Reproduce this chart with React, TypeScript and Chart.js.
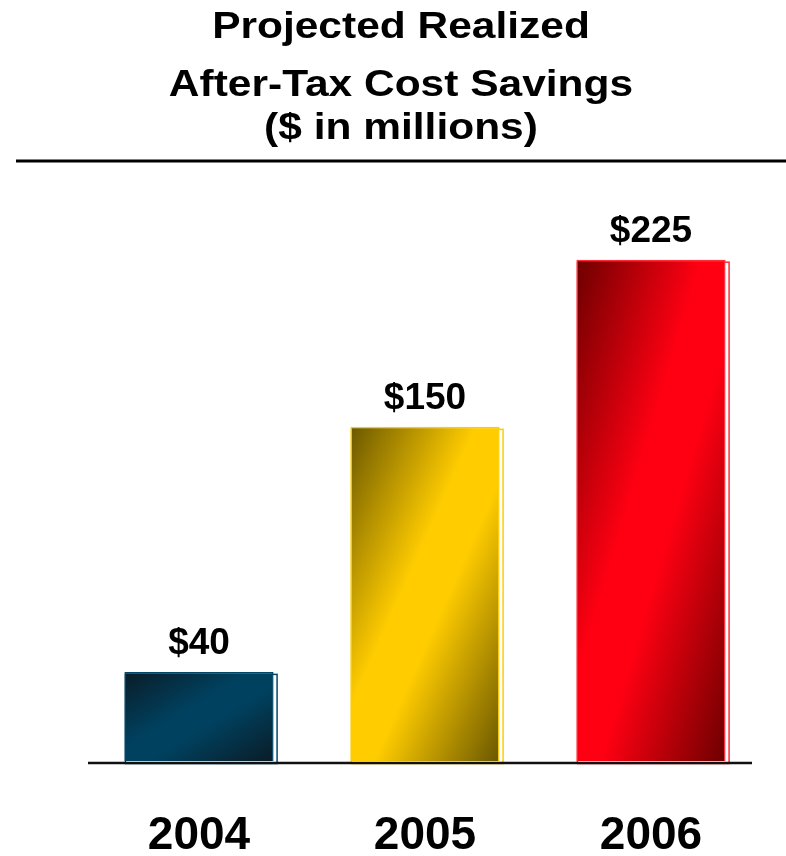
import React, { useEffect, useRef } from 'react';
import { Chart, registerables } from 'chart.js';

Chart.register(...registerables);

// ---- data ----
const categories = ['2004', '2005', '2006'];
const savings = [40, 150, 225];
const valueLabels = ['$40', '$150', '$225'];
const titleLines = ['Projected Realized', 'After-Tax Cost Savings', '($ in millions)'];

// ---- styles ----
const DARK = ['#0a1c27', '#6a5700', '#6c0000'];
const BRIGHT = ['#00415f', '#ffcc00', '#ff0012'];
const EDGE = ['#00476a', '#ffcc00', '#ff2a36'];
const FONT = '"Liberation Sans", Arial, Helvetica, sans-serif';
const BAR_PCT = 0.66;
const TITLE_TOPS = [5.5, 64, 107];

function barGradient(ctx: CanvasRenderingContext2D, i: number, left: number, top: number, right: number, bottom: number) {
  const w = Math.max(1, right - left);
  const h = Math.max(1, bottom - top);
  const k = (2 * w * h) / (w * w + h * h);
  const g = ctx.createLinearGradient(left, top, left + h * k, top + w * k);
  g.addColorStop(0, DARK[i]);
  g.addColorStop(0.42, BRIGHT[i]);
  g.addColorStop(0.58, BRIGHT[i]);
  g.addColorStop(1, DARK[i]);
  return g;
}

const gradFill = (c: any) => {
  const chart = c.chart;
  const i = c.dataIndex;
  const xs = chart.scales?.x;
  const ys = chart.scales?.y;
  if (!chart.chartArea || !xs || !ys || typeof i !== 'number') return BRIGHT[0];
  const cx = xs.getPixelForValue(i);
  const half = (xs.width / categories.length) * BAR_PCT / 2;
  const top = ys.getPixelForValue(savings[i]);
  const bottom = ys.getPixelForValue(0);
  return barGradient(chart.ctx, i, cx - half, top, cx + half, bottom);
};

const decorPlugin = {
  id: 'decor',
  beforeDatasetsDraw(chart: any) {
    const ctx = chart.ctx;
    const meta = chart.getDatasetMeta(0);
    meta.data.forEach((el: any, i: number) => {
      const { x, y, base, width } = el.getProps(['x', 'y', 'base', 'width'], true);
      ctx.save();
      ctx.strokeStyle = EDGE[i];
      ctx.lineWidth = 1.5;
      ctx.strokeRect(x - width / 2 + 1, y + 2.5, width + 2.5, base - y);
      ctx.restore();
    });
  },
  afterDatasetsDraw(chart: any) {
    const ctx = chart.ctx;
    const area = chart.chartArea;
    // baseline
    ctx.save();
    ctx.strokeStyle = '#111';
    ctx.lineWidth = 2.5;
    ctx.beginPath();
    ctx.moveTo(area.left + 2, area.bottom + 2);
    ctx.lineTo(area.right - 12, area.bottom + 2);
    ctx.stroke();
    ctx.restore();
    // value labels
    const meta = chart.getDatasetMeta(0);
    meta.data.forEach((el: any, i: number) => {
      const { x, y } = el.getProps(['x', 'y'], true);
      ctx.save();
      ctx.fillStyle = '#000';
      ctx.font = `bold 37px ${FONT}`;
      ctx.textAlign = 'center';
      ctx.textBaseline = 'alphabetic';
      ctx.fillText(valueLabels[i], x, y - 18);
      ctx.restore();
    });
    // separator rule under the title
    ctx.save();
    ctx.strokeStyle = '#000';
    ctx.lineWidth = 3;
    ctx.beginPath();
    ctx.moveTo(16, 161);
    ctx.lineTo(chart.width, 161);
    ctx.stroke();
    ctx.restore();
  },
};

export default function App() {
  const ref = useRef<HTMLCanvasElement | null>(null);

  useEffect(() => {
    if (!ref.current) return;
    const chart = new Chart(ref.current, {
      type: 'bar',
      data: {
        labels: categories,
        datasets: [
          {
            data: savings,
            backgroundColor: gradFill,
            borderColor: (c: any) => EDGE[c.dataIndex ?? 0],
            borderWidth: 1.5,
            borderSkipped: 'bottom',
            barPercentage: BAR_PCT,
            categoryPercentage: 1,
          },
        ],
      },
      options: {
        animation: false,
        responsive: true,
        maintainAspectRatio: false,
        layout: { padding: { left: 86, right: 22, top: 204, bottom: 0 } },
        plugins: {
          legend: { display: false },
          tooltip: { enabled: false },
          title: { display: false },
        },
        scales: {
          x: {
            grid: { display: false, drawTicks: false },
            border: { display: false },
            ticks: {
              color: '#000',
              font: { family: FONT, size: 46, weight: 'bold', lineHeight: 1 },
              padding: 52,
            },
            afterFit: (scale: any) => {
              scale.height = 95;
            },
          },
          y: {
            display: false,
            min: 0,
            max: 250,
          },
        },
      },
      plugins: [decorPlugin],
    });
    return () => chart.destroy();
  }, []);

  return (
    <div style={{ position: 'absolute', left: 0, top: 0, width: 786, height: 856, background: '#fff', overflow: 'hidden' }}>
      <canvas ref={ref} />
      {titleLines.map((t, i) => (
        <div
          key={i}
          style={{
            position: 'absolute',
            left: 0,
            width: 802,
            top: TITLE_TOPS[i],
            textAlign: 'center',
            fontFamily: FONT,
            fontWeight: 'bold',
            fontSize: 36,
            lineHeight: '40px',
            color: '#000',
            whiteSpace: 'nowrap',
            transform: 'scaleX(1.18)',
            transformOrigin: '401px 50%',
          }}
        >
          {t}
        </div>
      ))}
    </div>
  );
}
